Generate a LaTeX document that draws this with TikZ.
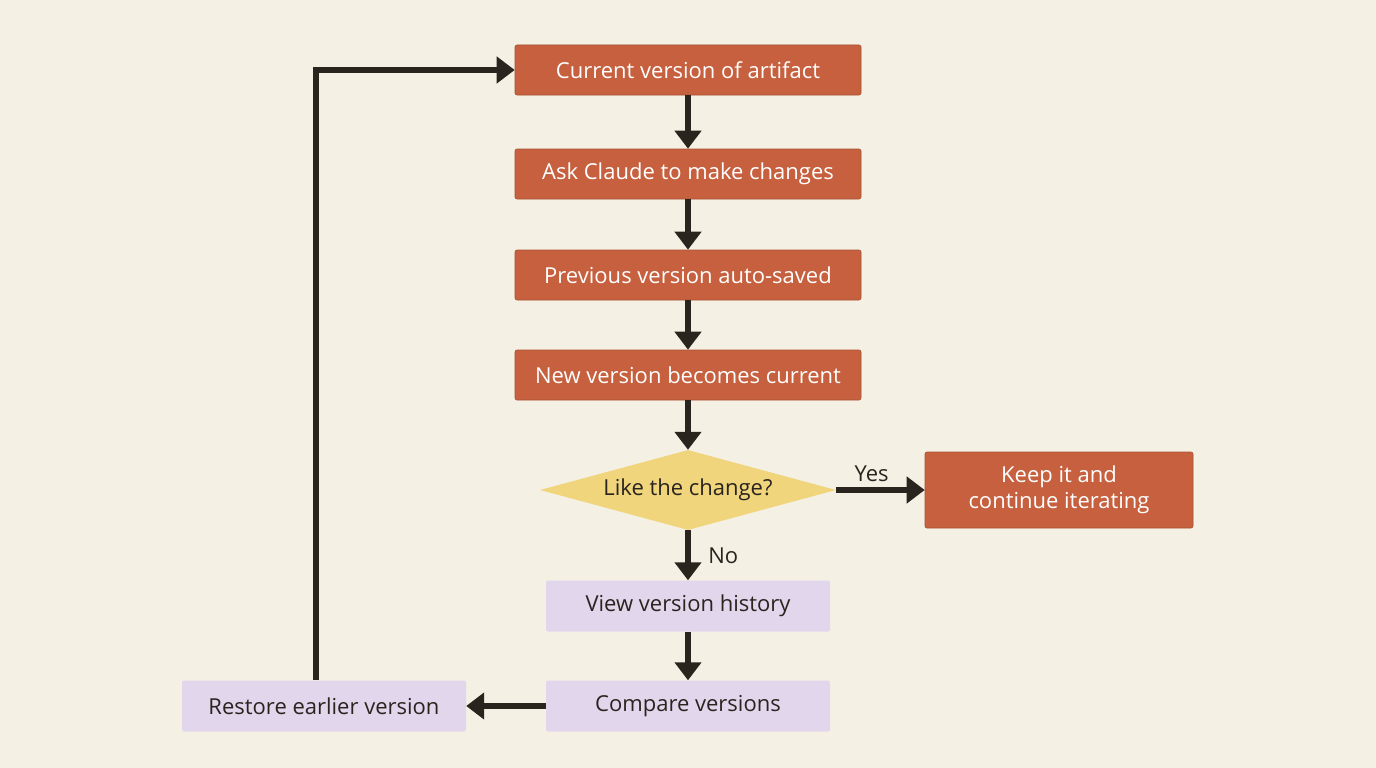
\documentclass[tikz,border=0pt]{standalone}
\usepackage{fontspec}
\setmainfont{Open Sans}
\usetikzlibrary{shapes.geometric,arrows.meta}
\definecolor{bg}{HTML}{F4F0E4}
\definecolor{org}{HTML}{C6603E}
\definecolor{pur}{HTML}{E2D6EC}
\definecolor{yel}{HTML}{F0D57C}
\definecolor{ink}{HTML}{2A241F}
\begin{document}
\begin{tikzpicture}[x=1pt,y=-1pt,
 box/.style={rectangle,rounded corners=2pt,minimum width=346pt,minimum height=50pt,inner sep=0pt,font=\fontsize{22}{26}\selectfont,align=center},
 ob/.style={box,fill=org,text=white,draw=org!85!black,line width=0.6pt},
 pb/.style={box,fill=pur,text=ink,minimum width=284pt,minimum height=51pt},
 ar/.style={ink,line width=6pt,-{Triangle[length=18pt,width=26pt]}},
 lb/.style={text=ink,font=\fontsize{22}{26}\selectfont}]
\fill[bg] (0,0) rectangle (1376,768);
\useasboundingbox (0,0) rectangle (1376,768);
\node[ob] (cur) at (688,70) {Current version of artifact};
\node[ob] (ask) at (688,174) {Ask Claude to make changes};
\node[ob] (prev) at (688,275) {Previous version auto-saved};
\node[ob] (new) at (688,375) {New version becomes current};
\node[diamond,fill=yel,inner sep=0pt,aspect=3.7,minimum width=296pt,minimum height=80pt,text=ink,font=\fontsize{22}{26}\selectfont] (like) at (688,490) {Like the change?};
\node[ob,minimum width=268pt,minimum height=76pt,align=center] (keep) at (1059,490) {Keep it and\\continue iterating};
\node[pb] (view) at (688,606) {View version history};
\node[pb] (cmp) at (688,706) {Compare versions};
\node[pb] (rest) at (324,706) {Restore earlier version};
\draw[ar] (cur) -- (ask);
\draw[ar] (ask) -- (prev);
\draw[ar] (prev) -- (new);
\draw[ar] (new) -- (like);
\draw[ar] (like) -- node[lb,above,pos=0.4,yshift=2pt]{Yes} (keep);
\draw[ar] (like) -- node[lb,right,xshift=14pt]{No} (view);
\draw[ar] (view) -- (cmp);
\draw[ar] (cmp) -- (rest);
\coordinate (c1) at (316,70);
\draw[ar] (rest.north -| c1) -- (c1) -- (cur.west);
\end{tikzpicture}
\end{document}
